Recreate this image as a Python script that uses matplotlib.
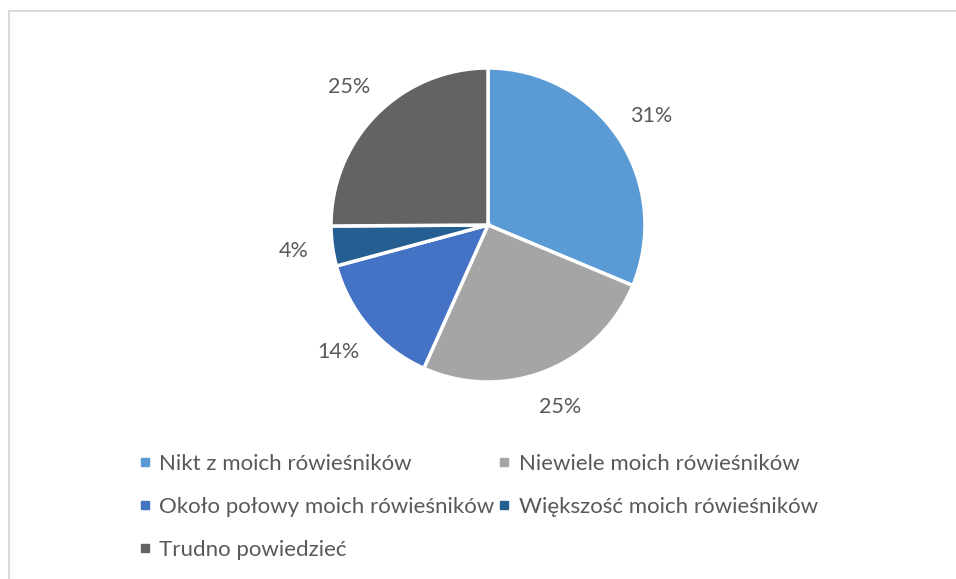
import matplotlib
matplotlib.use("Agg")
import matplotlib.pyplot as plt
from matplotlib.lines import Line2D

plt.rcParams['font.family'] = ['Lato', 'DejaVu Sans']

categories = ["Nikt z moich rówieśników", "Niewiele moich rówieśników",
              "Około połowy moich rówieśników", "Większość moich rówieśników",
              "Trudno powiedzieć"]
shares = [31.3, 25.4, 14.1, 4.1, 25.1]
colors = ["#5B9BD5", "#A5A5A5", "#4472C4", "#255E91", "#636363"]
text_color = "#595959"

W, H = 956, 579
fig = plt.figure(figsize=(W / 100, H / 100), dpi=100)

# pie area (pixel box of the circle)
cx, cy, r = 488, 225, 157
ax = fig.add_axes([(cx - r) / W, (H - cy - r) / H, 2 * r / W, 2 * r / H])
wedges, texts = ax.pie(shares, colors=colors, startangle=90, counterclock=False,
                       labels=["%d%%" % round(s) for s in shares], labeldistance=1.25,
                       wedgeprops=dict(edgecolor="white", linewidth=2.5),
                       textprops=dict(color=text_color, fontsize=15.5))
for t in texts:
    t.set_ha("center")
    t.set_va("center")
ax.set_xlim(-1, 1)
ax.set_ylim(-1, 1)
ax.axis("off")

# legend, filled row by row
order = [0, 2, 4, 1, 3]
handles = [Line2D([], [], marker="s", linestyle="none", markersize=5.5,
                  markerfacecolor=colors[i], markeredgecolor=colors[i]) for i in order]
labels = [categories[i] for i in order]
fig.legend(handles, labels, ncol=2, loc="upper left",
           bbox_to_anchor=(139 / W, 1 - 454 / H), frameon=False,
           fontsize=16, labelcolor=text_color, handlelength=0.5,
           handletextpad=0.4, columnspacing=0.2, labelspacing=1.04,
           borderpad=0, borderaxespad=0)

# chart frame (top and left edges visible)
border = "#D9D9D9"
fig.add_artist(Line2D([8.5 / W, 1], [1 - 10.5 / H, 1 - 10.5 / H], color=border,
                      linewidth=1.4, transform=fig.transFigure))
fig.add_artist(Line2D([8.5 / W, 8.5 / W], [0, 1 - 10.5 / H], color=border,
                      linewidth=1.4, transform=fig.transFigure))

fig.savefig("out.png", dpi=100, facecolor="white")
